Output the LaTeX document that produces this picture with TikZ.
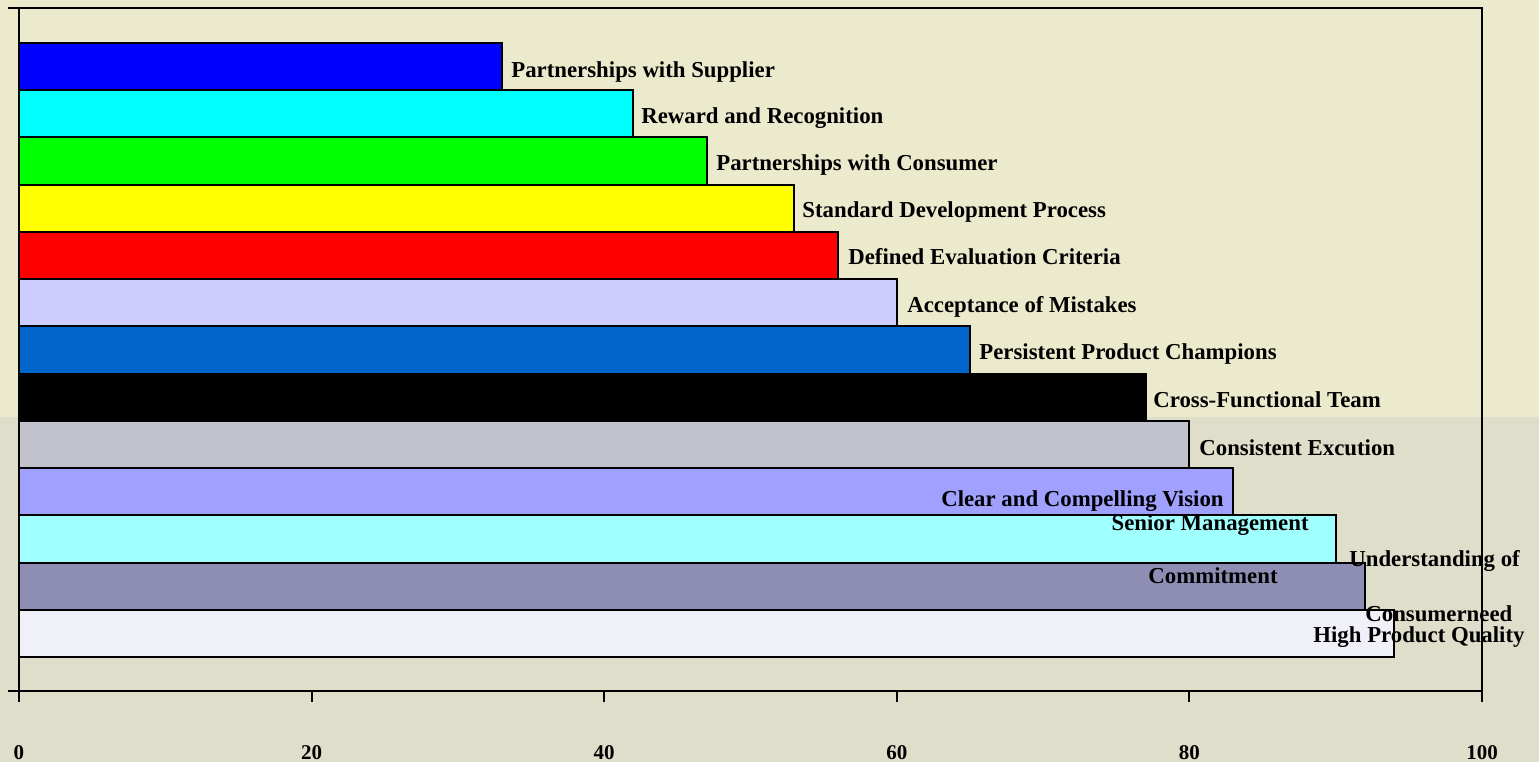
\documentclass[tikz,border=0pt]{standalone}
\usepackage{fontspec}
\setmainfont{Liberation Serif}
\definecolor{bgtop}{RGB}{236,234,204}
\definecolor{bgbot}{RGB}{223,222,202}
\definecolor{cA}{RGB}{0,0,255}
\definecolor{cB}{RGB}{0,255,255}
\definecolor{cC}{RGB}{0,255,0}
\definecolor{cD}{RGB}{255,255,0}
\definecolor{cE}{RGB}{255,0,0}
\definecolor{cF}{RGB}{204,204,255}
\definecolor{cG}{RGB}{0,102,204}
\definecolor{cH}{RGB}{0,0,0}
\definecolor{cI}{RGB}{194,194,204}
\definecolor{cJ}{RGB}{160,160,255}
\definecolor{cK}{RGB}{160,255,255}
\definecolor{cL}{RGB}{142,142,180}
\definecolor{cM}{RGB}{240,240,248}
\begin{document}
\begin{tikzpicture}[x=0.5pt,y=-0.5pt,
  bar/.style={draw=black,line width=1pt},
  frame/.style={draw=black,line width=1pt},
  lab/.style={font=\bfseries\fontsize{11.4}{13}\selectfont,inner sep=0pt,anchor=base west},
  ticklab/.style={font=\bfseries\fontsize{10.5}{12}\selectfont,inner sep=0pt,anchor=base}]
% backdrop
\useasboundingbox (0,0) rectangle (1539,762);
\fill[bgtop] (0,0) rectangle (1539,417);
\fill[bgbot] (0,417) rectangle (1539,762);
% bars: value / colour / label anchor / label position (baseline) / label
\foreach \v/\c/\la/\lx/\ly/\t [count=\i] in {
  33/cA/base west/511/77/Partnerships with Supplier,
  42/cB/base west/641/123/Reward and Recognition,
  47/cC/base west/716/170/Partnerships with Consumer,
  53/cD/base west/802/217/Standard Development Process,
  56/cE/base west/848/264/Defined Evaluation Criteria,
  60/cF/base west/907/312/Acceptance of Mistakes,
  65/cG/base west/979/359/Persistent Product Champions,
  77/cH/base west/1153/407/Cross-Functional Team,
  80/cI/base west/1199/455/Consistent Excution,
  83/cJ/base east/1224/506/Clear and Compelling Vision,
  90/cK/base east/1309/530/Senior Management,
  92/cL/base east/1278/583/Commitment,
  94/cM/base west/1313/642/High Product Quality}{
  \path[bar,fill=\c] (19,{43+(\i-1)*47.23}) rectangle ({19+14.63*\v},{43+\i*47.23});
  \node[lab,anchor=\la] (lab\i) at (\lx,\ly) {\t};
}
\node[lab] (labU) at (1349,566) {Understanding of};
\node[lab] (labC) at (1365,621) {Consumerneed};
% frame and axis
\coordinate (tl) at (8,8);
\coordinate (tr) at (1482,8);
\coordinate (br) at (1482,702);
\coordinate (ax0) at (8,691);
\coordinate (ax1) at (1482,691);
\coordinate (yl0) at (19,8);
\coordinate (yl1) at (19,702);
\draw[frame] (tl) -- (tr) -- (br);
\draw[frame] (yl0) -- (yl1);
\draw[frame] (ax0) -- (ax1);
\foreach \k in {0,1,...,5}{
  \coordinate (tk\k) at ({19+292.6*\k},691);
  \draw[frame] (tk\k) -- ++(0,11);
  \node[ticklab] (tl\k) at ({19+292.6*\k},759) {\pgfmathparse{int(20*\k)}\pgfmathresult};
}
\end{tikzpicture}
\end{document}
